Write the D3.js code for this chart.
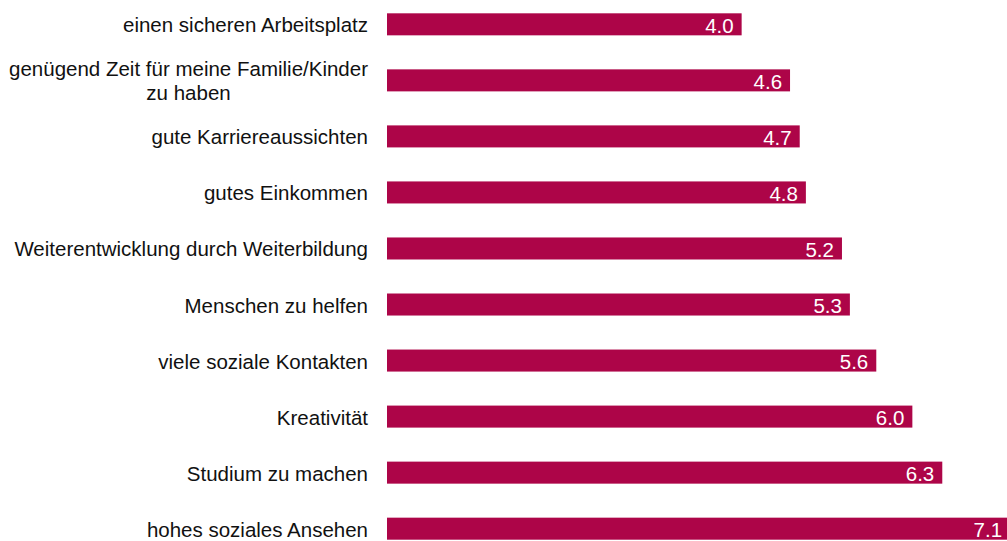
<!DOCTYPE html>
<html>
<head>
<meta charset="utf-8">
<script src="https://cdn.jsdelivr.net/npm/d3@7"></script>
<style>
  body { margin: 0; background: #fff; }
  text { font-family: "Liberation Sans", Arial, sans-serif; }
</style>
</head>
<body>
<svg width="1007" height="541"></svg>
<script>
// categories, top to bottom
const categories = [
  "einen sicheren Arbeitsplatz",
  "genügend Zeit für meine Familie/Kinder|zu haben",
  "gute Karriereaussichten",
  "gutes Einkommen",
  "Weiterentwicklung durch Weiterbildung",
  "Menschen zu helfen",
  "viele soziale Kontakten",
  "Kreativität",
  "Studium zu machen",
  "hohes soziales Ansehen"
];
// bar values (labels show one decimal)
const values = [4.03, 4.58, 4.69, 4.76, 5.17, 5.26, 5.56, 5.97, 6.31, 7.08];

const svg = d3.select('svg');
const width = +svg.attr('width');
const height = +svg.attr('height');
const margin = { top: 0, right: 0, bottom: 0, left: 387 };
const barColor = "#ad0548";
const fontSize = 20.5;

const data = categories.map((c, i) => ({ label: c, value: values[i] }));

const xScale = d3.scaleLinear()
    .domain([0, 8])
    .range([margin.left, margin.left + 8 * 88]);

const yScale = d3.scaleBand()
    .domain(categories)
    .range([-3.5, 556.5])
    .paddingInner(0.607)
    .paddingOuter(0.3);

const rows = svg.append("g")
  .selectAll("g")
  .data(data)
  .join("g")
    .attr("transform", d => `translate(0,${yScale(d.label)})`);

rows.append("rect")
    .attr("x", xScale(0))
    .attr("y", 0)
    .attr("width", d => xScale(d.value) - xScale(0))
    .attr("height", yScale.bandwidth())
    .attr("fill", barColor);

rows.append("text")
    .attr("x", d => xScale(d.value) - 8)
    .attr("y", yScale.bandwidth() / 2 + 8.5)
    .attr("text-anchor", "end")
    .attr("font-size", fontSize)
    .attr("fill", "#fff")
    .text(d => d.value.toFixed(1));

// category labels, two-line ones are centred on their longest line
rows.each(function (d) {
    const lines = d.label.split("|");
    const g = d3.select(this);
    const mid = yScale.bandwidth() / 2;
    if (lines.length === 1) {
        g.append("text")
            .attr("x", 368)
            .attr("y", mid + 8)
            .attr("text-anchor", "end")
            .attr("font-size", fontSize)
            .attr("fill", "#111")
            .text(lines[0]);
    } else {
        const t = g.append("text")
            .attr("font-size", fontSize)
            .attr("fill", "#111")
            .attr("text-anchor", "middle");
        const spans = t.selectAll("tspan")
          .data(lines)
          .join("tspan")
            .attr("x", 0)
            .attr("y", (l, i) => mid - 4 + i * 24)
            .text(l => l);
        const w = d3.max(spans.nodes(), n => n.getComputedTextLength());
        spans.attr("x", 368 - w / 2);
    }
});
</script>
</body>
</html>
